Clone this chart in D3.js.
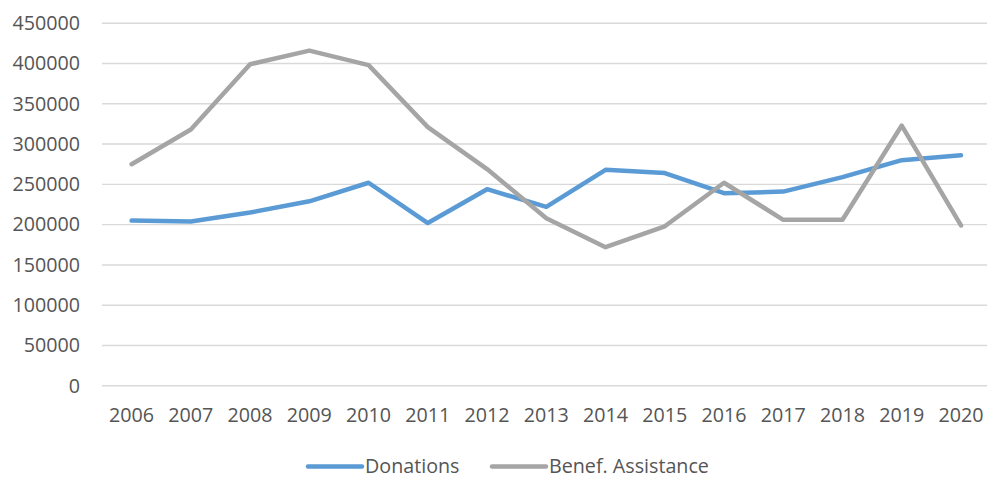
<!DOCTYPE html>
<html>
<head>
<meta charset="utf-8">
<script src="https://cdn.jsdelivr.net/npm/d3@7"></script>
<style>
  body { margin: 0; background: #fff; }
  svg { display: block; }
</style>
</head>
<body>
<script>
const years = ["2006","2007","2008","2009","2010","2011","2012","2013","2014","2015","2016","2017","2018","2019","2020"];
const donations = [205000,204000,215000,229000,252000,202000,244000,222000,268000,264000,239000,241000,259000,280000,286000];
const benefAssistance = [275000,318000,399000,416000,398000,321000,269000,208000,172000,198000,252000,206000,206000,323000,199000];
const yTicks = [0,50000,100000,150000,200000,250000,300000,350000,400000,450000];
const seriesNames = ["Donations","Benef. Assistance"];

function drawChart() {
const width = 987, height = 478;
const colors = ["#5B9BD5","#A5A5A5"];
const font = "'Open Sans', sans-serif";

const svg = d3.select("body").append("svg")
    .attr("width", width)
    .attr("height", height);

const x = d3.scaleBand()
    .domain(years)
    .range([102, 990.6]);

const y = d3.scaleLinear()
    .domain([0, 450000])
    .range([385.8, 23.2]);

// gridlines
svg.append("g")
    .selectAll("line")
    .data(yTicks)
    .join("line")
    .attr("x1", 102)
    .attr("x2", width)
    .attr("y1", d => y(d))
    .attr("y2", d => y(d))
    .style("stroke", "#D9D9D9")
    .style("stroke-width", 1.4);

// y axis labels
const yAxis = svg.append("g")
    .attr("transform", "translate(80,0)")
    .call(d3.axisLeft(y).tickValues(yTicks).tickSize(0).tickPadding(0).tickFormat(d3.format("d")));
yAxis.select(".domain").remove();
yAxis.selectAll("text")
    .style("font-family", font)
    .style("font-size", "19.7px")
    .style("fill", "#555555");

// x axis labels
const xAxis = svg.append("g")
    .attr("transform", "translate(0,407.5)")
    .call(d3.axisBottom(x).tickSize(0).tickPadding(0));
xAxis.select(".domain").remove();
xAxis.selectAll("text")
    .style("font-family", font)
    .style("font-size", "19.7px")
    .style("fill", "#555555");

const line = d3.line()
    .x((d, i) => x(years[i]) + x.bandwidth() / 2)
    .y(d => y(d));

[donations, benefAssistance].forEach((vals, k) => {
    svg.append("path")
        .datum(vals)
        .attr("d", line)
        .style("fill", "none")
        .style("stroke", colors[k])
        .style("stroke-width", 4.5)
        .style("stroke-linejoin", "round")
        .style("stroke-linecap", "round");
});

// legend
const legendPos = [308, 492];
const legend = svg.append("g")
    .selectAll("g")
    .data(seriesNames)
    .join("g")
    .attr("transform", (d, i) => "translate(" + legendPos[i] + ",466.5)");

legend.append("line")
    .attr("x1", 0)
    .attr("x2", 54)
    .style("stroke", (d, i) => colors[i])
    .style("stroke-width", 4.5)
    .style("stroke-linecap", "round");

legend.append("text")
    .attr("x", 57)
    .attr("dy", "0.35em")
    .text(d => d)
    .style("font-family", font)
    .style("font-size", "19.7px")
    .style("fill", "#555555");
}

drawChart();
</script>
</body>
</html>
